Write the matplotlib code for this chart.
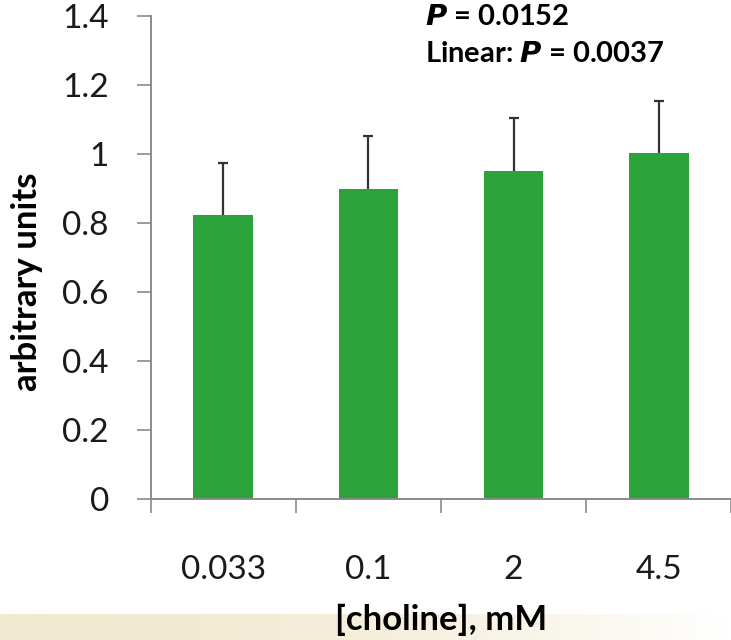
import numpy as np
import matplotlib
matplotlib.use("Agg")
import matplotlib.pyplot as plt
from matplotlib.colors import LinearSegmentedColormap

categories = ["0.033", "0.1", "2", "4.5"]
values = [0.823, 0.900, 0.952, 1.004]
errors = [0.152, 0.153, 0.151, 0.150]
yticks = [0, 0.2, 0.4, 0.6, 0.8, 1.0, 1.2, 1.4]
ytick_labels = ["0", "0.2", "0.4", "0.6", "0.8", "1", "1.2", "1.4"]

plt.rcParams['font.family'] = ['Lato', 'DejaVu Sans']

fig = plt.figure(figsize=(7.31, 6.4), dpi=100)

# subtle beige band at the bottom
bg = fig.add_axes([0, 0, 1, 0.04], zorder=-5)
grad = np.linspace(0, 1, 256).reshape(1, -1) ** 2
cmap = LinearSegmentedColormap.from_list("bg", ["#f1e9d0", "#ffffff"])
bg.imshow(grad, aspect="auto", cmap=cmap, extent=[0, 1, 0, 1])
bg.axis("off")

ax = fig.add_axes([0.206, 0.2203, 0.7945, 0.7547])
x = np.arange(len(categories))
ax.bar(x, values, width=0.41, color="#2ba33a", zorder=2)
eb = ax.errorbar(x, values, yerr=[np.zeros(len(errors)), errors], fmt="none",
                 ecolor="#333333", elinewidth=1.6, capsize=3.5, capthick=1.6, zorder=3)
for cl in eb[1]:
    if np.allclose(cl.get_ydata(), values):
        cl.set_visible(False)

ax.set_xlim(-0.5, 3.5)
ax.set_ylim(0, 1.4)
ax.set_yticks(yticks)
ax.set_yticklabels(ytick_labels, fontsize=24, color="#1a1a1a")
ax.set_xticks(x)
ax.set_xticklabels(categories, fontsize=24, color="#1a1a1a")
ax.tick_params(axis="x", which="major", length=0, pad=40)
ax.set_xticks(np.arange(-0.5, 4.0, 1.0), minor=True)
ax.tick_params(axis="x", which="minor", length=10, width=1.2, color="#8a8a8a", direction="out")
ax.tick_params(axis="y", length=10, width=1.2, color="#8a8a8a", pad=20)

for s in ["top", "right"]:
    ax.spines[s].set_visible(False)
for s in ["left", "bottom"]:
    ax.spines[s].set_color("#8a8a8a")
    ax.spines[s].set_linewidth(1.4)

ax.set_ylabel("arbitrary units", fontsize=25, fontweight="bold")
ax.yaxis.set_label_coords(-0.186, 0.449)
ax.set_xlabel("[choline], mM", fontsize=25, fontweight="bold", labelpad=14)

fig.text(0.582, 0.973, r"$\bfit{P}$" + " = 0.0152", fontsize=21, fontweight="bold",
         ha="left", va="center")
fig.text(0.582, 0.916, "Linear: " + r"$\bfit{P}$" + " = 0.0037", fontsize=21,
         fontweight="bold", ha="left", va="center")

fig.savefig("out.png", dpi=100)
